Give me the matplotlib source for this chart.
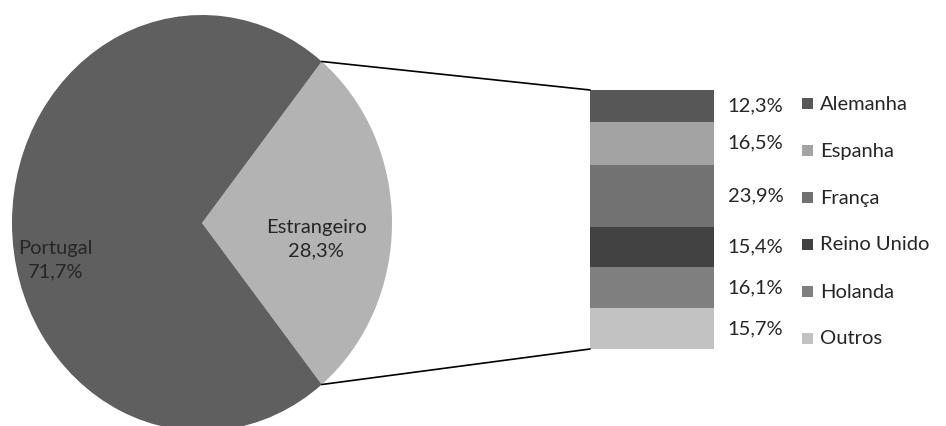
import numpy as np
import matplotlib.pyplot as plt
from matplotlib.patches import ConnectionPatch, Rectangle
from matplotlib import transforms

plt.rcParams['font.family'] = ['Lato', 'DejaVu Sans']

# dados
pie_labels = ['Estrangeiro', 'Portugal']
pie_values = [28.3, 71.7]
pie_colors = ['#b3b3b3', '#5f5f5f']

countries = ['Alemanha', 'Espanha', 'França', 'Reino Unido', 'Holanda', 'Outros']
shares = [12.3, 16.5, 23.9, 15.4, 16.1, 15.7]
bar_colors = ['#575757', '#a3a3a3', '#727272', '#424242', '#7f7f7f', '#c2c2c2']

txt_color = '#262626'
fs = 14.5


def pct(v):
    return f"{v:.1f}".replace('.', ',') + '%'


W, H = 946, 426
fig = plt.figure(figsize=(W / 100, H / 100), dpi=100)

# pizza (ligeiramente esticada na vertical, como no original)
cx, cy, rx, ry = 202, 223, 190, 208
ax1 = fig.add_axes([(cx - rx) / W, (H - cy - ry) / H, 2 * rx / W, 2 * ry / H])
start = -pie_values[0] / 100 * 360 / 2
wedges, _ = ax1.pie(pie_values, colors=pie_colors, startangle=start,
                    counterclock=True, radius=1, frame=False,
                    wedgeprops=dict(linewidth=0))
ax1.set_aspect('auto')
ax1.set_xlim(-1, 1)
ax1.set_ylim(-1, 1)
ax1.axis('off')

ax1.text(0.6, -0.08, pie_labels[0] + '\n' + pct(pie_values[0]), ha='center',
         va='center', fontsize=fs, color=txt_color, linespacing=1.45)
ax1.text(-0.77, -0.18, pie_labels[1] + '\n' + pct(pie_values[1]), ha='center',
         va='center', fontsize=fs, color=txt_color, linespacing=1.45)

# barra empilhada
bx0, bx1, by0, by1 = 590, 714, 90, 349
ax2 = fig.add_axes([bx0 / W, (H - by1) / H, (bx1 - bx0) / W, (by1 - by0) / H])
total = sum(shares)
bottoms = np.cumsum([0] + shares[:-1])
ax2.bar(0, shares, bottom=bottoms, width=1, color=bar_colors, linewidth=0)
ax2.set_xlim(-0.5, 0.5)
ax2.set_ylim(total, 0)
ax2.axis('off')

# rótulos de percentagem
tr = transforms.blended_transform_factory(ax2.transAxes, ax2.transData)
for b, v in zip(bottoms, shares):
    ax2.text(1.11, b + v / 2, pct(v), transform=tr, ha='left', va='center',
             fontsize=fs, color=txt_color)

# legenda
lx, ly0, lstep = 802, 104, 47
for i, (name, col) in enumerate(zip(countries, bar_colors)):
    y = ly0 + i * lstep
    fig.add_artist(Rectangle((lx / W, (H - y - 5) / H), 11 / W, 11 / H,
                             transform=fig.transFigure, color=col, lw=0))
    fig.text((lx + 18) / W, (H - y) / H, name, ha='left', va='center',
             fontsize=fs, color=txt_color)

# linhas de ligação
theta1 = np.deg2rad(wedges[0].theta1)
theta2 = np.deg2rad(wedges[0].theta2)
for th, yb in [(theta2, 0), (theta1, total)]:
    con = ConnectionPatch(xyA=(np.cos(th), np.sin(th)), coordsA=ax1.transData,
                          xyB=(-0.5, yb), coordsB=ax2.transData,
                          color='black', linewidth=1.2)
    fig.add_artist(con)

fig.savefig('out.png', dpi=100, facecolor='white')
